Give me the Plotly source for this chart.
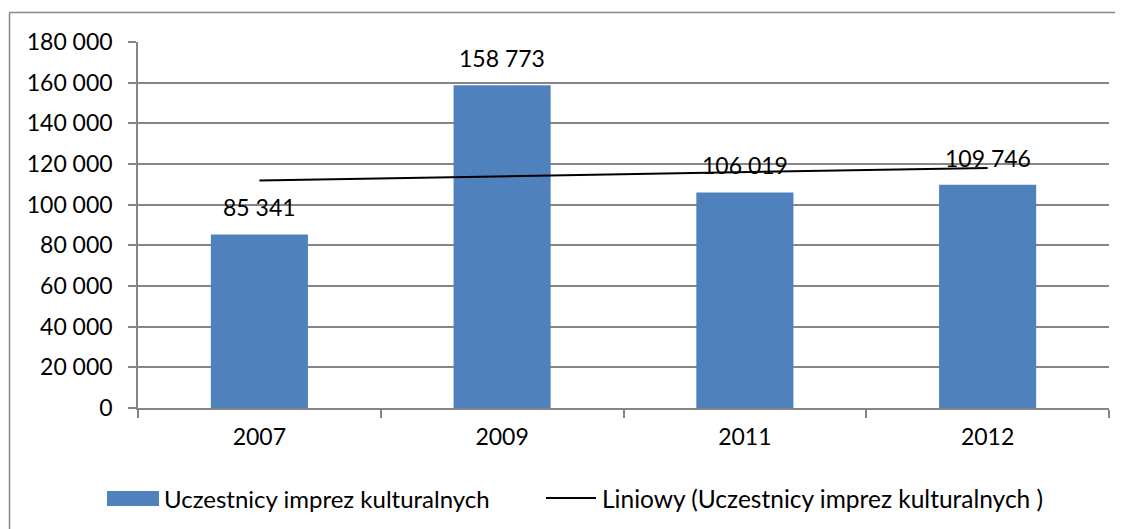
import numpy as np
import plotly.graph_objects as go

# ---- data ----
years = ["2007", "2009", "2011", "2012"]
participants = [85341, 158773, 106019, 109746]
series_name = "Uczestnicy imprez kulturalnych"
trend_name = "Liniowy (Uczestnicy imprez kulturalnych )"
y_ticks = [0, 20000, 40000, 60000, 80000, 100000, 120000, 140000, 160000, 180000]

# linear trendline (least squares, as in the original chart)
idx = np.arange(len(years))
slope, intercept = np.polyfit(idx, participants, 1)
trend = list(slope * idx + intercept)

# the page body has an 8px default margin, so work in shifted coordinates
OFF = 8
W, H = 1123, 529
L, R, T, B = 138 - OFF, 1109 - OFF, 42 - OFF, 408 - OFF
FONT = "Lato"
GRID = "#868686"
BLUE = "#4F81BD"


def px(x):
    return (x - OFF - L) / (R - L)


def py(y):
    return (B - (y - OFF)) / (B - T)


fig = go.Figure()
fig.add_trace(go.Bar(x=years, y=participants, name=series_name,
                     marker=dict(color=BLUE, line=dict(width=0)),
                     showlegend=False))
fig.add_trace(go.Scatter(x=years, y=trend, name=trend_name, mode="lines",
                         line=dict(color="black", width=2), showlegend=False))

annotations = []
for i, v in enumerate(participants):
    annotations.append(dict(x=i, y=v, xref="x", yref="y",
                            text=f"{v:,}".replace(",", " "),
                            showarrow=False, yanchor="middle", yshift=27,
                            font=dict(family=FONT, size=23, color="black")))

# manual legend
annotations.append(dict(x=px(162), y=py(498), xref="paper", yref="paper",
                        text=series_name, showarrow=False, xanchor="left",
                        yanchor="middle",
                        font=dict(family=FONT, size=24, color="black")))
annotations.append(dict(x=px(600), y=py(498), xref="paper", yref="paper",
                        text=trend_name, showarrow=False, xanchor="left",
                        yanchor="middle",
                        font=dict(family=FONT, size=24.5, color="black")))

shapes = [
    dict(type="rect", xref="paper", yref="paper",
         x0=px(107), x1=px(159), y0=py(491), y1=py(506),
         fillcolor=BLUE, line=dict(width=0)),
    dict(type="line", xref="paper", yref="paper",
         x0=px(546), x1=px(596), y0=py(498), y1=py(498),
         line=dict(color="black", width=2)),
    # chart-area outline (top and left edges visible in the original)
    dict(type="line", xref="paper", yref="paper",
         x0=px(9.5), x1=px(1200), y0=py(12.5), y1=py(12.5),
         line=dict(color=GRID, width=1.5), layer="below"),
    dict(type="line", xref="paper", yref="paper",
         x0=px(9.5), x1=px(9.5), y0=py(12.5), y1=py(600),
         line=dict(color=GRID, width=1.5), layer="below"),
]

fig.update_layout(
    width=W, height=H,
    margin=dict(l=L, r=W - R, t=T, b=H - B, autoexpand=False),
    paper_bgcolor="white", plot_bgcolor="white",
    separators=", ",
    bargap=0.6,
    font=dict(family=FONT, size=23, color="black"),
    annotations=annotations,
    shapes=shapes,
    xaxis=dict(type="category", range=[-0.5, len(years) - 0.5],
               showline=True, linecolor=GRID, linewidth=1.5,
               ticks="outside", tickson="boundaries", ticklen=8,
               tickcolor=GRID, tickwidth=1.5, showgrid=False,
               ticklabelstandoff=8,
               tickfont=dict(family=FONT, size=23, color="black")),
    yaxis=dict(range=[0, 180000], tickvals=y_ticks, tickformat=",d",
               showline=True, linecolor=GRID, linewidth=1.5,
               ticks="outside", ticklen=8, tickcolor=GRID, tickwidth=1.5,
               showgrid=True, gridcolor=GRID, gridwidth=1.5,
               zeroline=False, ticklabelstandoff=11,
               tickfont=dict(family=FONT, size=23, color="black")),
)

fig.write_html("out.html")
